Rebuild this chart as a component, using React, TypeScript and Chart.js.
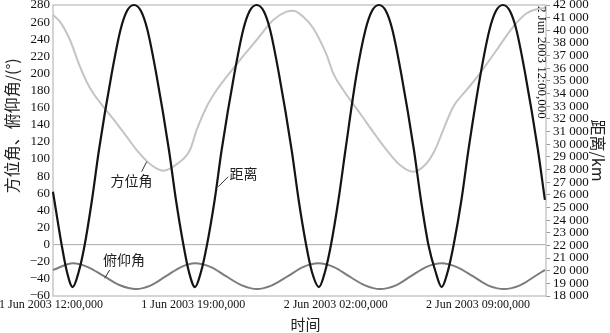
import React, { useEffect, useRef } from "react";
import { Chart, registerables } from "chart.js";
Chart.register(...registerables);

// ---- axis/tick data ----
const X_MIN = 0.1;
const X_MAX = 24.34;
const X_TICK_HOURS = [0, 7, 14, 21];
const X_TICK_LABELS = [
  "1 Jun 2003 12:00,000",
  "1 Jun 2003 19:00,000",
  "2 Jun 2003 02:00,000",
  "2 Jun 2003 09:00,000",
];
const X_END_HOUR = 24;
const X_END_LABEL = "2 Jun 2003 12:00,000";

const LEFT_MIN = -60;
const LEFT_MAX = 280;
const LEFT_STEP = 20;

const RIGHT_MIN = 18000;
const RIGHT_MAX = 42000;
// bottom to top, as printed in the reference (39 000 is absent there)
const RIGHT_TICK_LABELS = [
  "18 000", "19 000", "20 000", "21 000", "22 000", "23 000", "24 000", "25 000",
  "26 000", "27 000", "28 000", "29 000", "30 000", "31 000", "32 000", "33 000",
  "34 000", "35 000", "36 000", "37 000", "38 000", "40 000", "41 000", "42 000",
];

// ---- series: distance (km) ----
const DIST_HOURS = [
  0.098, 0.526, 0.787, 1.067, 1.362, 1.657, 2.016, 2.36, 2.974, 3.417, 3.736, 4.081,
  4.425, 4.744, 5.187, 5.801, 6.146, 6.514, 6.785, 7.08, 7.375, 7.67, 8.048, 8.392,
  9.007, 9.45, 9.769, 10.113, 10.457, 10.777, 11.219, 11.834, 12.178, 12.547, 12.832,
  13.176, 13.471, 13.766, 14.135, 14.479, 15.02, 15.462, 15.782, 16.126, 16.47, 16.789,
  17.232, 17.847, 18.191, 18.56, 18.913, 19.208, 19.503, 19.798, 20.182, 20.526, 21.116,
  21.559, 21.878, 22.222, 22.566, 22.886, 23.328, 23.943, 24.287,
];
const DIST_KM = [
  26600, 22210, 19980, 18740, 19980, 22210, 25920, 30040, 36230, 39940, 41500, 42000,
  41500, 39940, 36230, 30040, 25920, 22210, 19980, 18740, 19980, 22210, 25920, 30040,
  36230, 39940, 41500, 42000, 41500, 39940, 36230, 30040, 25920, 22210, 19980,
  18740, 19980, 22210, 25920, 30040, 36230, 39940, 41500, 42000, 41500, 39940,
  36230, 30040, 25920, 22210, 19980, 18740, 19980, 22210, 25920, 30040, 36230,
  39940, 41500, 42000, 41500, 39940, 36230, 30040, 25920,
];

// ---- series: elevation (deg) ----
const ELEV_HOURS = [
  0.098, 1.082, 1.819, 2.606, 3.392, 4.179, 4.916, 5.654, 6.391, 7.08, 7.866, 8.604,
  9.391, 10.128, 10.865, 11.652, 12.389, 13.151, 13.913, 14.651, 15.438, 16.175, 16.962,
  17.699, 18.437, 19.208, 19.961, 20.747, 21.485, 22.271, 23.058, 23.795, 24.287,
];
const ELEV_DEG = [
  -29.5, -21.8, -26.2, -36.9, -47.5, -51.8, -47.5, -36.9, -26.2, -21.8, -26.2, -36.9,
  -47.5, -51.8, -47.5, -36.9, -26.2, -21.8, -26.2, -36.9, -47.5, -51.8, -47.5,
  -36.9, -26.2, -21.8, -26.2, -36.9, -47.5, -51.8, -47.5, -36.9, -29.5,
];

// ---- series: azimuth (deg) ----
const AZ_HOURS = [
  0.098, 0.442, 0.934, 1.426, 1.755, 2.08, 2.571, 3.23, 3.722, 4.213, 4.867, 5.521,
  6.195, 6.834, 7.163, 7.655, 8.147, 8.638, 9.292, 10.113, 10.929, 11.588, 11.912,
  12.404, 12.896, 13.555, 13.879, 14.371, 15.192, 16.013, 16.504, 17.158, 17.812,
  18.437, 18.879, 19.287, 19.779, 20.438, 21.091, 21.912, 22.729, 23.387, 23.879, 24.287,
];
const AZ_DEG = [
  268.3, 260.5, 239.1, 207.9, 190.4, 176.8, 161.2, 141.8, 126.1, 110.6, 94.2, 86.4,
  94.2, 110.6, 134.0, 161.2, 180.7, 196.2, 215.7, 239.1, 262.5, 272.2, 273.3,
  266.3, 252.8, 221.6, 200.2, 180.7, 153.5, 126.1, 110.6, 93.1, 85.2,
  94.2, 110.6, 134.0, 161.2, 180.7, 200.2, 227.4, 254.6, 270.3, 275.0, 276.5,
];

// ---- in-plot callouts, in data units (hours, left-axis degrees) ----
const CALLOUTS = [
  { text: "方位角", tx: 3.958, ty: 74.4, x1: 4.459, y1: 85.2, x2: 4.705, y2: 96.9 },
  { text: "距离", tx: 9.464, ty: 83.1, x1: 8.717, y1: 79.4, x2: 8.225, y2: 67.7 },
  { text: "俯仰角", tx: 3.589, ty: -17.9, x1: 2.886, y1: -29.6, x2: 2.64, y2: -39.3 },
];

const LEFT_TITLE = "方位角、俯仰角/(°)";
const RIGHT_TITLE = "距离/km";
const X_TITLE = "时间";

const SERIF = '"Liberation Serif", "Times New Roman", serif';
const CJK = '"Noto Sans CJK SC", "Noto Sans", sans-serif';

const zip = (xs: number[], ys: number[]) => xs.map((x, i) => ({ x, y: ys[i] }));

const overlayPlugin = {
  id: "overlay",
  beforeDatasetsDraw(chart: any) {
    const { ctx, chartArea: a, scales } = chart;
    ctx.save();
    const y0 = scales.y.getPixelForValue(0);
    ctx.strokeStyle = "#aaaaaa";
    ctx.lineWidth = 1;
    ctx.beginPath();
    ctx.moveTo(a.left, y0);
    ctx.lineTo(a.right, y0);
    ctx.stroke();
    ctx.strokeStyle = "#c8c8c8";
    ctx.lineWidth = 1.5;
    ctx.strokeRect(a.left, a.top, a.right - a.left, a.bottom - a.top);
    const xe = scales.x.getPixelForValue(X_END_HOUR);
    ctx.translate(xe + 2, a.top + 1);
    ctx.rotate(Math.PI / 2);
    ctx.font = "13px " + SERIF;
    ctx.fillStyle = "#111";
    ctx.textAlign = "left";
    ctx.textBaseline = "middle";
    ctx.fillText(X_END_LABEL, 0, 0);
    ctx.restore();
  },
  afterDatasetsDraw(chart: any) {
    const { ctx, scales } = chart;
    const sx = scales.x;
    const sy = scales.y;
    ctx.save();
    ctx.font = "14px " + CJK;
    ctx.fillStyle = "#222";
    ctx.textAlign = "center";
    ctx.textBaseline = "middle";
    ctx.strokeStyle = "#333";
    ctx.lineWidth = 1;
    for (const c of CALLOUTS) {
      ctx.fillText(c.text, sx.getPixelForValue(c.tx), sy.getPixelForValue(c.ty));
      ctx.beginPath();
      ctx.moveTo(sx.getPixelForValue(c.x1), sy.getPixelForValue(c.y1));
      ctx.lineTo(sx.getPixelForValue(c.x2), sy.getPixelForValue(c.y2));
      ctx.stroke();
    }
    ctx.restore();
  },
  afterDraw(chart: any) {
    const { ctx, chartArea: a } = chart;
    ctx.save();
    ctx.fillStyle = "#222";
    ctx.textAlign = "center";
    ctx.textBaseline = "middle";
    // left title
    ctx.font = "16px " + CJK;
    ctx.save();
    ctx.translate(12, a.top + (a.bottom - a.top) * 0.415);
    ctx.rotate(-Math.PI / 2);
    ctx.fillText(LEFT_TITLE, 0, 0);
    ctx.restore();
    // right title
    ctx.save();
    ctx.translate(chart.width - 12, (a.top + a.bottom) / 2);
    ctx.rotate(Math.PI / 2);
    ctx.fillText(RIGHT_TITLE, 0, 0);
    ctx.restore();
    // bottom title
    ctx.font = "15px " + CJK;
    ctx.fillText(X_TITLE, (a.left + a.right) / 2 + 6, chart.height - 9);
    ctx.restore();
  },
};

export default function App() {
  const ref = useRef<HTMLCanvasElement | null>(null);
  useEffect(() => {
    if (!ref.current) return;
    const rightStep = (RIGHT_MAX - RIGHT_MIN) / (RIGHT_TICK_LABELS.length - 1);
    const chart = new Chart(ref.current, {
      type: "line",
      data: {
        datasets: [
          {
            label: "距离",
            data: zip(DIST_HOURS, DIST_KM),
            yAxisID: "y2",
            borderColor: "#141414",
            borderWidth: 2.2,
            pointRadius: 0,
            cubicInterpolationMode: "monotone",
            clip: 4,
          },
          {
            label: "俯仰角",
            data: zip(ELEV_HOURS, ELEV_DEG),
            yAxisID: "y",
            borderColor: "#7c7c7c",
            borderWidth: 2,
            pointRadius: 0,
            cubicInterpolationMode: "monotone",
            clip: 4,
          },
          {
            label: "方位角",
            data: zip(AZ_HOURS, AZ_DEG),
            yAxisID: "y",
            borderColor: "#c4c4c4",
            borderWidth: 2,
            pointRadius: 0,
            cubicInterpolationMode: "monotone",
            clip: 4,
          },
        ],
      },
      options: {
        animation: false,
        responsive: false,
        devicePixelRatio: 1,
        parsing: false as any,
        layout: { padding: { top: 5, left: 0, right: 0, bottom: 0 } },
        plugins: { legend: { display: false }, tooltip: { enabled: false } },
        events: [],
        scales: {
          x: {
            type: "linear",
            min: X_MIN,
            max: X_MAX,
            grid: { display: false, drawTicks: false },
            border: { display: false },
            afterBuildTicks: (s: any) => {
              s.ticks = X_TICK_HOURS.map((v) => ({ value: v }));
            },
            afterFit: (s: any) => {
              s.height = 37;
              s.paddingLeft = 0;
              s.paddingRight = 0;
            },
            ticks: {
              autoSkip: false,
              maxRotation: 0,
              minRotation: 0,
              padding: 2,
              color: "#111",
              font: { family: SERIF, size: 12 },
              callback: (_v: any, i: number) => X_TICK_LABELS[i],
            },
          },
          y: {
            type: "linear",
            position: "left",
            min: LEFT_MIN,
            max: LEFT_MAX,
            grid: { display: false, drawTicks: false },
            border: { display: false },
            afterFit: (s: any) => {
              s.width = 53;
              s.paddingTop = 0;
              s.paddingBottom = 0;
            },
            ticks: {
              stepSize: LEFT_STEP,
              autoSkip: false,
              padding: 3,
              color: "#111",
              font: { family: SERIF, size: 13 },
              callback: (v: any) => (v < 0 ? "\u2212" + Math.abs(v) : String(v)),
            },
          },
          y2: {
            type: "linear",
            position: "right",
            min: RIGHT_MIN,
            max: RIGHT_MAX,
            grid: {
              display: true,
              drawOnChartArea: false,
              drawTicks: true,
              tickLength: 4,
              color: "#999",
            },
            border: { display: false },
            afterBuildTicks: (s: any) => {
              s.ticks = RIGHT_TICK_LABELS.map((_, i) => ({ value: RIGHT_MIN + i * rightStep }));
            },
            afterFit: (s: any) => {
              s.width = 64;
              s.paddingTop = 0;
              s.paddingBottom = 0;
            },
            ticks: {
              autoSkip: false,
              padding: 3,
              color: "#111",
              font: { family: SERIF, size: 13 },
              callback: (_v: any, i: number) => RIGHT_TICK_LABELS[i],
            },
          },
        },
      },
      plugins: [overlayPlugin],
    } as any);
    return () => chart.destroy();
  }, []);
  return (
    <div style={{ position: "fixed", left: 0, top: 0, width: 610, height: 333, background: "#fff" }}>
      <canvas ref={ref} width={610} height={333} style={{ display: "block" }} />
    </div>
  );
}
